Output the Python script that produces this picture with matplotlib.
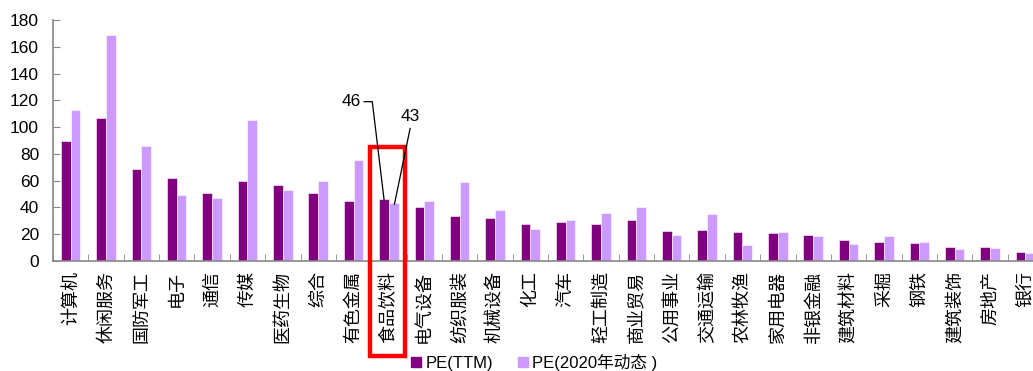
import numpy as np
import matplotlib.pyplot as plt
from matplotlib.lines import Line2D
from matplotlib.patches import Rectangle

plt.rcParams['font.family'] = ['Liberation Sans', 'Noto Sans CJK SC', 'DejaVu Sans']

industries = ['计算机', '休闲服务', '国防军工', '电子', '通信', '传媒', '医药生物', '综合',
              '有色金属', '食品饮料', '电气设备', '纺织服装', '机械设备', '化工', '汽车',
              '轻工制造', '商业贸易', '公用事业', '交通运输', '农林牧渔', '家用电器',
              '非银金融', '建筑材料', '采掘', '钢铁', '建筑装饰', '房地产', '银行']
pe_ttm = [90, 107, 68.5, 62, 51, 60, 57, 51, 45, 46, 40, 33.5, 32, 28, 29,
          27.5, 30.5, 22.5, 23.5, 21.7, 21.2, 19.7, 16, 14.5, 13.2, 10.7, 10.5, 6.7]
pe_2020 = [113, 169, 86, 49.3, 47, 105, 53, 60, 75.5, 43, 44.5, 59, 38, 24, 30.4,
           36, 40.3, 19.7, 35, 12, 21.7, 19, 13, 18.4, 14.2, 8.7, 9.5, 6.2]

dark = '#800080'
light = '#CC99FF'
label_ttm = 'PE(TTM)'
label_2020 = 'PE(2020年动态 )'

fig = plt.figure(figsize=(10.33, 3.71), dpi=100)
# the plot runs past the right edge of the figure, so the last category is cut
ax = fig.add_axes([53 / 1033, 110 / 371, 990 / 1033, 241 / 371])

x = np.arange(len(industries))
w = 0.275
ax.bar(x - w / 2, pe_ttm, w, color=dark, edgecolor='white', linewidth=0.4)
ax.bar(x + w / 2, pe_2020, w, color=light, edgecolor='white', linewidth=0.4)

ax.set_xlim(-0.5, len(industries) - 0.5)
ax.set_ylim(0, 180)
ax.set_yticks(np.arange(0, 181, 20))
ax.tick_params(axis='y', direction='in', length=5, color='#888888', labelsize=12.5, pad=10)

ax.set_xticks(x)
ax.set_xticklabels(industries, rotation=90, fontsize=13, family=['Noto Sans CJK SC'], va='top')
ax.tick_params(axis='x', which='major', length=0, pad=7)
ax.set_xticks(np.arange(-0.5, len(industries), 1), minor=True)
ax.tick_params(axis='x', which='minor', direction='in', length=5, color='#888888')

for s in ['top', 'right']:
    ax.spines[s].set_visible(False)
for s in ['left', 'bottom']:
    ax.spines[s].set_color('#888888')
    ax.spines[s].set_linewidth(1.2)

# highlight the food & beverage group
i = industries.index('食品饮料')
ax.add_patch(Rectangle((i - 0.545, -71), 0.99, 156, fill=False, edgecolor='#FF0000',
                       linewidth=3.2, clip_on=False, zorder=5))

# leader lines with values
ax.plot([i - 0.7, i - 0.47, i - w / 2], [119, 119, pe_ttm[i]], color='black', lw=0.9,
        clip_on=False, zorder=6)
ax.text(i - 0.8, 119, f'{pe_ttm[i]:.0f}', ha='right', va='center', fontsize=12.5)
ax.plot([i + 0.6, i + w / 2 + 0.02], [99, pe_2020[i] - 0.5], color='black', lw=0.9,
        clip_on=False, zorder=6)
ax.text(i + 0.6, 108, f'{pe_2020[i]:.0f}', ha='center', va='center', fontsize=12.5)

handles = [Line2D([], [], ls='none', marker='s', markersize=6.5, color=dark),
           Line2D([], [], ls='none', marker='s', markersize=6.5, color=light)]
fig.legend(handles, [label_ttm, label_2020], loc='center left',
           bbox_to_anchor=(411 / 1033, 9 / 371), ncol=2, frameon=False,
           fontsize=12, handlelength=0.6, handletextpad=0.25, columnspacing=1.5,
           borderpad=0, borderaxespad=0)

fig.savefig('out.png', dpi=100)
